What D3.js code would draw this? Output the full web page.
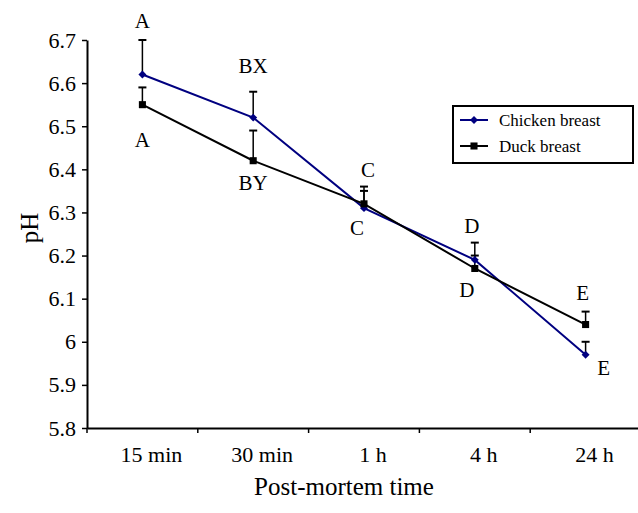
<!DOCTYPE html>
<html>
<head>
<meta charset="utf-8">
<script src="https://cdn.jsdelivr.net/npm/d3@7"></script>
<style>
  body { margin: 0; background: #fff; }
</style>
</head>
<body>
<div id="chart"></div>
<script>
const categories = ['15 min', '30 min', '1 h', '4 h', '24 h'];
const chickenPH = [6.62, 6.52, 6.31, 6.19, 5.97];
const chickenErr = [0.08, 0.06, 0.04, 0.04, 0.03];
const duckPH = [6.55, 6.42, 6.32, 6.17, 6.04];
const duckErr = [0.04, 0.07, 0.04, 0.03, 0.03];
const yTicks = [5.8, 5.9, 6, 6.1, 6.2, 6.3, 6.4, 6.5, 6.6, 6.7];
// letters: [category index, text, value where label sits, dx]
const chickenLetters = [[0, 'A', 6.745, 0], [1, 'BX', 6.64, 0], [2, 'C', 6.265, -7], [3, 'D', 6.27, -3], [4, 'E', 5.94, 18]];
const duckLetters = [[0, 'A', 6.47, 0], [1, 'BY', 6.37, 0], [2, 'C', 6.40, 4], [3, 'D', 6.12, -8], [4, 'E', 6.115, -3]];

const serif = '"Liberation Serif", "Times New Roman", serif';
const width = 638, height = 513;
const svg = d3.select('#chart').append('svg')
  .attr('width', width)
  .attr('height', height)
  .attr('font-family', serif);

const x = d3.scaleBand().domain(categories).range([87, 641]);
const y = d3.scaleLinear().domain([5.8, 6.7]).range([428, 40]);
const cx = d => x(d) + x.bandwidth() / 2;

// axes
const yAxis = svg.append('g')
  .attr('transform', 'translate(87,0)')
  .call(d3.axisLeft(y).tickValues(yTicks).tickFormat(d => d3.format('')(+d.toFixed(1))).tickSize(5).tickSizeOuter(0))
  .attr('font-family', serif);
yAxis.select('.domain').attr('stroke', '#000').attr('stroke-width', 2);
yAxis.selectAll('line').attr('stroke-width', 1.5);
yAxis.selectAll('text').attr('font-size', 22).attr('x', -11).attr('fill', '#000');

const xAxis = svg.append('g')
  .attr('transform', 'translate(0,428)')
  .call(d3.axisBottom(x).tickSize(0).tickSizeOuter(0))
  .attr('font-family', serif);
xAxis.select('.domain').attr('stroke', '#000').attr('stroke-width', 2);
xAxis.selectAll('text').attr('font-size', 22).attr('dy', 0).attr('y', 34).attr('dx', 9).attr('fill', '#000');
// tick marks at band boundaries
svg.append('g').selectAll('line')
  .data(categories)
  .join('line')
  .attr('x1', d => x(d)).attr('x2', d => x(d))
  .attr('y1', 428).attr('y2', 433)
  .attr('stroke', '#000').attr('stroke-width', 1.5);

svg.append('text')
  .attr('x', 344).attr('y', 495)
  .attr('text-anchor', 'middle')
  .attr('font-size', 25)
  .text('Post-mortem time');

svg.append('text')
  .attr('transform', 'translate(38,228) rotate(-90)')
  .attr('text-anchor', 'middle')
  .attr('font-size', 25)
  .text('pH');

// error bars (upward only)
function errorBars(vals, errs, cls) {
  const g = svg.append('g').attr('class', cls);
  const rows = categories.map((c, i) => ({ c, v: vals[i], e: errs[i] }));
  g.selectAll('.stem').data(rows).join('line')
    .attr('x1', d => cx(d.c)).attr('x2', d => cx(d.c))
    .attr('y1', d => y(d.v)).attr('y2', d => y(d.v + d.e))
    .attr('stroke', '#000').attr('stroke-width', 1.5);
  g.selectAll('.cap').data(rows).join('line')
    .attr('x1', d => cx(d.c) - 4).attr('x2', d => cx(d.c) + 4)
    .attr('y1', d => y(d.v + d.e)).attr('y2', d => y(d.v + d.e))
    .attr('stroke', '#000').attr('stroke-width', 2);
}
errorBars(chickenPH, chickenErr, 'err-chicken');
errorBars(duckPH, duckErr, 'err-duck');

const line = d3.line().x(d => cx(d[0])).y(d => y(d[1]));
const chickenPts = categories.map((c, i) => [c, chickenPH[i]]);
const duckPts = categories.map((c, i) => [c, duckPH[i]]);

const navy = '#000080';
svg.append('path').datum(chickenPts)
  .attr('d', line).attr('fill', 'none').attr('stroke', navy).attr('stroke-width', 2);
svg.append('path').datum(duckPts)
  .attr('d', line).attr('fill', 'none').attr('stroke', '#000').attr('stroke-width', 2);

const diamond = d3.symbol().type(d3.symbolDiamond2).size(40);
const square = d3.symbol().type(d3.symbolSquare).size(50);

svg.append('g').selectAll('path').data(chickenPts).join('path')
  .attr('transform', d => `translate(${cx(d[0])},${y(d[1])})`)
  .attr('d', diamond).attr('fill', navy);
svg.append('g').selectAll('path').data(duckPts).join('path')
  .attr('transform', d => `translate(${cx(d[0])},${y(d[1])})`)
  .attr('d', square).attr('fill', '#000');

// significance letters
svg.append('g').selectAll('text').data(chickenLetters.concat(duckLetters)).join('text')
  .attr('x', d => cx(categories[d[0]]) + d[3])
  .attr('y', d => y(d[2]))
  .attr('dy', '0.35em')
  .attr('text-anchor', 'middle')
  .attr('font-size', 21)
  .text(d => d[1]);

// legend
const legend = svg.append('g').attr('transform', 'translate(453,106)');
legend.append('rect')
  .attr('width', 180).attr('height', 57)
  .attr('fill', '#fff').attr('stroke', '#000').attr('stroke-width', 2);
const legendItems = [['Chicken breast', navy, diamond], ['Duck breast', '#000', square]];
legendItems.forEach((it, i) => {
  const ly = 14 + i * 26;
  legend.append('line').attr('x1', 7).attr('x2', 35).attr('y1', ly).attr('y2', ly)
    .attr('stroke', it[1]).attr('stroke-width', 2);
  legend.append('path').attr('transform', `translate(21,${ly})`).attr('d', it[2]).attr('fill', it[1]);
  legend.append('text').attr('x', 46).attr('y', ly).attr('dy', '0.35em')
    .attr('font-size', 17).text(it[0]);
});
</script>
</body>
</html>
